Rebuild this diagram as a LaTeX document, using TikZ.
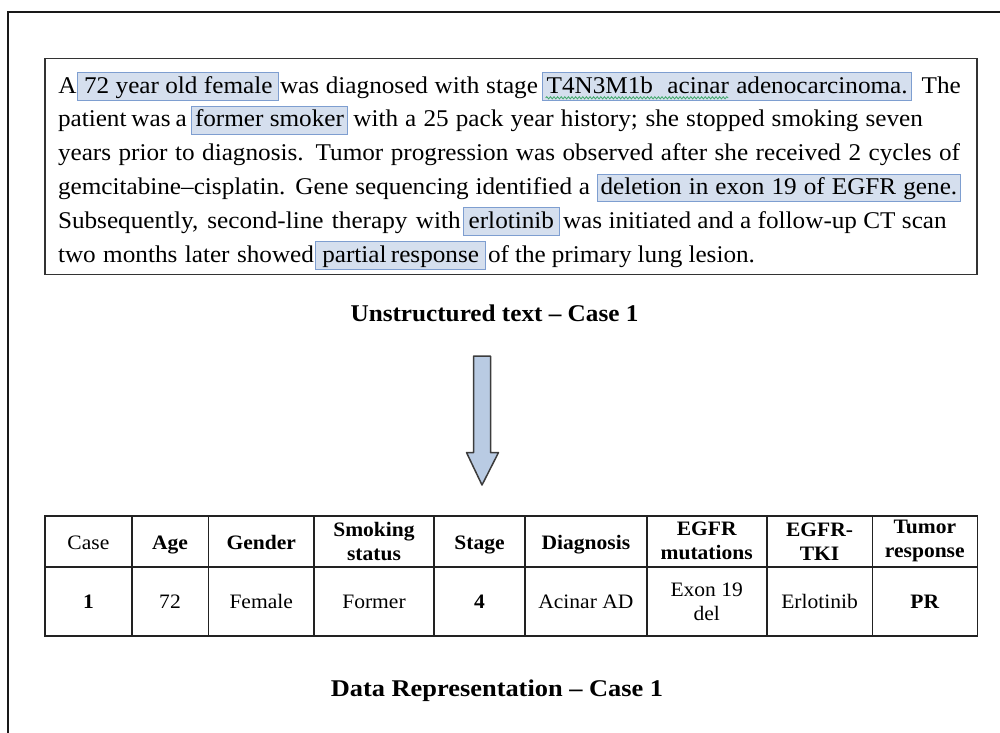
\documentclass[tikz,border=0pt]{standalone}
\usepackage{graphicx}
\usepackage{fontspec}
\setmainfont{Liberation Serif}
\usetikzlibrary{decorations.pathmorphing}

\definecolor{hlfill}{HTML}{D5DFEE}
\definecolor{hlline}{HTML}{7E9ED0}
\definecolor{arrowfill}{HTML}{B9CBE3}
\definecolor{arrowline}{HTML}{3C3C3C}
\definecolor{boxline}{HTML}{333333}
\definecolor{gridline}{HTML}{222222}
\definecolor{wavegreen}{HTML}{3FA86A}

\newcommand\bodysize{\fontsize{24}{33.8}\selectfont}
\newcommand\tablesize{\fontsize{20.5}{24}\selectfont}
% slightly wider letters than the plain face
\newcommand\wide[1]{\scalebox{1.05}[1]{#1}}
% a run of words, widened and spread to a given width (in pt)
\newcommand\spreadrun[2]{\scalebox{1.05}[1]{\makebox[\dimexpr #1pt*20/21\relax][s]{#2}}}

\begin{document}
\begin{tikzpicture}[x=1pt,y=-1pt,
  seg/.style={anchor=base west, inner sep=0pt, outer sep=0pt, font=\bodysize},
  hl/.style={anchor=base west, draw=hlline, fill=hlfill, line width=1pt,
    inner xsep=0pt, inner ysep=0pt, text height=20.3pt, text depth=7.2pt,
    font=\bodysize, minimum width=#1pt},
  heading/.style={anchor=base, inner sep=0pt, font=\bodysize\bfseries},
  frameline/.style={line width=2pt, black!90},
  textframe/.style={draw=boxline, line width=1.6pt},
  blockarrow/.style={fill=arrowfill, draw=arrowline, line width=1.5pt, line join=round},
  wave/.style={wavegreen, line width=0.8pt, decorate,
    decoration={snake, segment length=3.6pt, amplitude=1.1pt}},
  grid/.style={draw=gridline, line width=1.6pt},
  cell/.style={font=\tablesize, anchor=base, inner sep=0pt},
  hcell/.style={font=\tablesize\bfseries, anchor=base, inner sep=0pt},
  cell2/.style={font=\tablesize, align=center, inner sep=0pt},
  hcell2/.style={font=\tablesize\bfseries, align=center, inner sep=0pt}
]
\useasboundingbox (0,0) rectangle (1000,732);

% outer page frame (open at right and bottom)
\coordinate (fBL) at (8,733);
\coordinate (fTL) at (8,12);
\coordinate (fTR) at (1001,12);
\draw[frameline] (fBL) -- (fTL) -- (fTR);

% box around the free text
\draw[textframe] (45,58.5) rectangle (976.7,274.3);

% line 1
\node[seg] (l1a) at (58.3,93) {\wide{A}};
\node[hl=201] (hAge) at (77.3,93) {\spreadrun{188.4}{72 year old female}};
\node[seg] (l1b) at (280,93) {\spreadrun{258}{was diagnosed with stage}};
\node[hl=368.7] (hStage) at (542.3,93) {\spreadrun{361}{T4N3M1b\ \ acinar adenocarcinoma.}};
\node[seg] (l1c) at (921.7,93) {\wide{The}};
\coordinate (waveA) at (545.7,97.8);
\coordinate (waveB) at (728.3,97.8);
\draw[wave] (waveA) -- (waveB);

% line 2
\node[seg] (l2a) at (58,126.8) {\spreadrun{128.7}{patient was a}};
\node[hl=156.6] (hSmoke) at (190.7,126.8) {\spreadrun{149}{former smoker}};
\node[seg] (l2b) at (353.3,126.8) {\spreadrun{569.7}{with a 25 pack year history; she stopped smoking seven}};

% line 3
\node[seg] (l3) at (58,160.6) {\spreadrun{902}{years prior to diagnosis. Tumor progression was observed after she received 2 cycles of}};

% line 4
\node[seg] (l4a) at (58,194.4) {\spreadrun{532}{gemcitabine–cisplatin. Gene sequencing identified a}};
\node[hl=363.3] (hMut) at (596.7,194.4) {\spreadrun{356.7}{deletion in exon 19 of EGFR gene.}};

% line 5
\node[seg] (l5a) at (58,228.2) {\spreadrun{402.7}{Subsequently, second-line therapy with}};
\node[hl=96.3] (hDrug) at (462.7,228.2) {\wide{erlotinib}};
\node[seg] (l5b) at (563,228.2) {\spreadrun{383.7}{was initiated and a follow-up CT scan}};

% line 6
\node[seg] (l6a) at (58,262) {\spreadrun{256}{two months later showed}};
\node[hl=169.7] (hResp) at (315.3,262) {\spreadrun{156.7}{partial response}};
\node[seg] (l6b) at (488,262) {\spreadrun{267}{of the primary lung lesion.}};

% caption of the free text
\node[heading] (capText) at (494.5,321.7) {\wide{Unstructured text – Case 1}};

% block arrow pointing down to the table
\draw[blockarrow] (473.5,356) -- (490.5,356) -- (490.5,452.5) -- (498.5,452.5)
  -- (482,485) -- (466.5,452.5) -- (473.5,452.5) -- cycle;

% table grid
\draw[grid] (45,516) rectangle (977.3,636);
\draw[grid] (45,566.7) -- (977.3,566.7);
\foreach \cx in {131.7,208.3,314,434,525,646.7,766.7,872.3}
  \draw[grid] (\cx,516) -- (\cx,636);

% header row
\node[cell]   (hCase)  at (88.4,549.3)  {\wide{Case}};
\node[hcell]  (hAgeC)  at (170,549.3)   {\wide{Age}};
\node[hcell]  (hGen)   at (261.2,549.3) {\wide{Gender}};
\node[hcell2] (hSmk)   at (374,541.3)   {\wide{Smoking}\\\wide{status}};
\node[hcell]  (hStg)   at (479.5,549.3) {\wide{Stage}};
\node[hcell]  (hDiag)  at (585.9,549.3) {\wide{Diagnosis}};
\node[hcell2] (hEgfr)  at (706.7,541.3) {\wide{EGFR}\\\wide{mutations}};
\node[hcell2] (hTki)   at (819.5,541.3) {\wide{EGFR-}\\\wide{TKI}};
\node[hcell2] (hTum)   at (924.8,541.3) {\wide{Tumor}\\\wide{response}};

% data row
\node[hcell]  (dCase)  at (88.4,608.3)  {\wide{1}};
\node[cell]   (dAge)   at (170,608.3)   {\wide{72}};
\node[cell]   (dGen)   at (261.2,608.3) {\wide{Female}};
\node[cell]   (dSmk)   at (374,608.3)   {\wide{Former}};
\node[hcell]  (dStg)   at (479.5,608.3) {\wide{4}};
\node[cell]   (dDiag)  at (585.9,608.3) {\wide{Acinar AD}};
\node[cell2]  (dEgfr)  at (706.7,601.3) {\wide{Exon 19}\\\wide{del}};
\node[cell]   (dTki)   at (819.5,608.3) {\wide{Erlotinib}};
\node[hcell]  (dTum)   at (924.8,608.3) {\wide{PR}};

% caption of the table
\node[heading] (capData) at (497,696) {\scalebox{1.1}[1]{Data Representation – Case 1}};
\end{tikzpicture}
\end{document}
